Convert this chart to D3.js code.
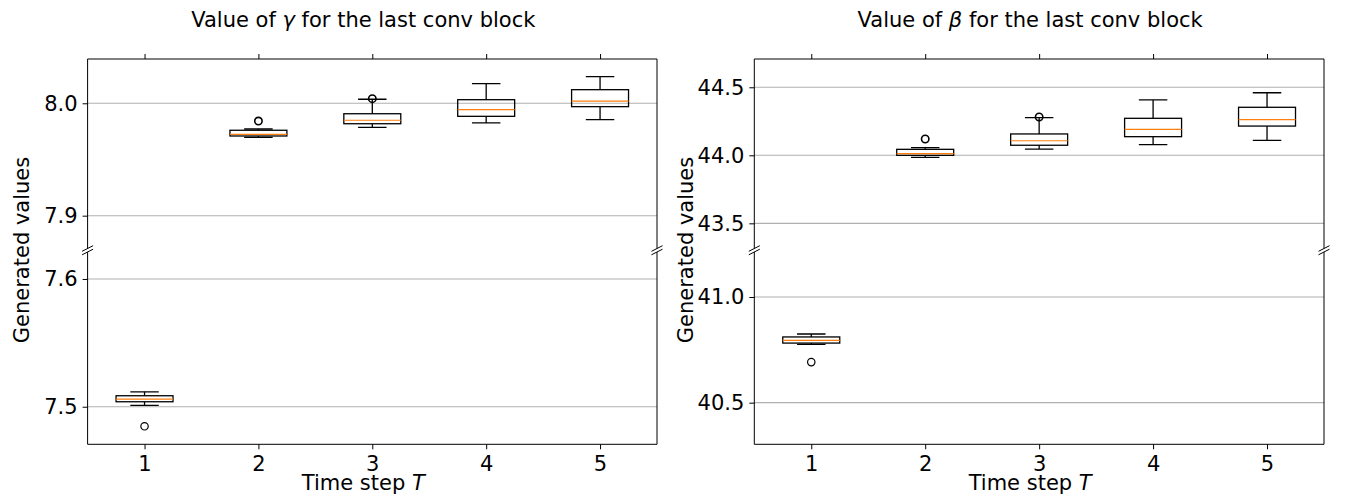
<!DOCTYPE html>
<html><head><meta charset="utf-8">
<script src="https://cdn.jsdelivr.net/npm/d3@7"></script>
<style>body{margin:0;background:#fff} text{font-family:"DejaVu Sans",sans-serif;fill:#000}</style>
</head><body>
<svg id="c" width="1347" height="498"></svg>
<script>
// ---- data ----
const steps = [1, 2, 3, 4, 5];

const gammaWhiskerLow  = [7.5011, 7.9697, 7.9786, 7.9825, 7.9854];
const gammaQ1          = [7.5039, 7.9709, 7.9818, 7.9884, 7.9970];
const gammaMedian      = [7.5060, 7.9724, 7.9849, 7.9943, 8.0020];
const gammaQ3          = [7.5086, 7.9760, 7.9907, 8.0032, 8.0121];
const gammaWhiskerHigh = [7.5117, 7.9771, 8.0036, 8.0175, 8.0237];
const gammaOutliers    = [[7.4847], [7.9842], [8.0041], [], []];

const betaWhiskerLow  = [40.776, 43.985, 44.046, 44.078, 44.110];
const betaQ1          = [40.782, 44.000, 44.074, 44.137, 44.215];
const betaMedian      = [40.795, 44.012, 44.107, 44.191, 44.262];
const betaQ3          = [40.811, 44.044, 44.157, 44.272, 44.353];
const betaWhiskerHigh = [40.825, 44.056, 44.277, 44.407, 44.460];
const betaOutliers    = [[40.692], [44.120], [44.282], [], []];

const gammaTopTicks = [7.9, 8.0];
const gammaBottomTicks = [7.5, 7.6];
const betaTopTicks = [43.5, 44.0, 44.5];
const betaBottomTicks = [40.5, 41.0];

const gammaTopLim = [7.8708, 8.0394];
const gammaBottomLim = [7.4706, 7.6211];
const betaTopLim = [43.315, 44.708];
const betaBottomLim = [40.303, 41.213];

// ---- drawing ----
const svg = d3.select("#c");
const FS = 21;
let clipId = 0;

function drawPanel(cfg) {
  const x = d3.scaleLinear().domain([0.5, 5.5]).range([cfg.x0, cfg.x1]);
  const boxW = x(1.25) - x(0.75);
  const capW = x(1.125) - x(0.875);
  const stats = steps.map((s, i) => ({
    s, lo: cfg.lo[i], q1: cfg.q1[i], med: cfg.med[i], q3: cfg.q3[i], hi: cfg.hi[i], out: cfg.out[i]
  }));
  const subs = [
    {dom: cfg.topLim, range: [248.5, 59], ticks: cfg.topTicks, top: true},
    {dom: cfg.botLim, range: [444.3, 252], ticks: cfg.botTicks, top: false}
  ];
  subs.forEach(sub => {
    const y = d3.scaleLinear().domain(sub.dom).range(sub.range);
    const yTop = sub.range[1], yBot = sub.range[0];
    const id = "clip" + (clipId++);
    svg.append("clipPath").attr("id", id).append("rect")
      .attr("x", cfg.x0 - 10).attr("y", yTop).attr("width", cfg.x1 - cfg.x0 + 20).attr("height", yBot - yTop);
    // grid
    svg.append("g").selectAll("line").data(sub.ticks).join("line")
      .attr("x1", cfg.x0).attr("x2", cfg.x1)
      .attr("y1", d => y(d)).attr("y2", d => y(d))
      .attr("stroke", "#b0b0b0").attr("stroke-width", 1.1);
    // boxes
    const g = svg.append("g").attr("clip-path", `url(#${id})`);
    const b = g.selectAll("g.box").data(stats).join("g").attr("class", "box");
    b.append("line").attr("x1", d => x(d.s)).attr("x2", d => x(d.s))
      .attr("y1", d => y(d.q3)).attr("y2", d => y(d.hi)).attr("stroke", "#000").attr("stroke-width", 1.3);
    b.append("line").attr("x1", d => x(d.s)).attr("x2", d => x(d.s))
      .attr("y1", d => y(d.q1)).attr("y2", d => y(d.lo)).attr("stroke", "#000").attr("stroke-width", 1.3);
    b.append("line").attr("x1", d => x(d.s) - capW / 2).attr("x2", d => x(d.s) + capW / 2)
      .attr("y1", d => y(d.hi)).attr("y2", d => y(d.hi)).attr("stroke", "#000").attr("stroke-width", 1.3);
    b.append("line").attr("x1", d => x(d.s) - capW / 2).attr("x2", d => x(d.s) + capW / 2)
      .attr("y1", d => y(d.lo)).attr("y2", d => y(d.lo)).attr("stroke", "#000").attr("stroke-width", 1.3);
    b.append("rect").attr("x", d => x(d.s) - boxW / 2).attr("width", boxW)
      .attr("y", d => y(d.q3)).attr("height", d => y(d.q1) - y(d.q3))
      .attr("fill", "none").attr("stroke", "#000").attr("stroke-width", 1.3);
    b.append("line").attr("x1", d => x(d.s) - boxW / 2).attr("x2", d => x(d.s) + boxW / 2)
      .attr("y1", d => y(d.med)).attr("y2", d => y(d.med)).attr("stroke", "#ff7f0e").attr("stroke-width", 1.2);
    b.selectAll("circle").data(d => d.out.map(v => ({s: d.s, v}))).join("circle")
      .attr("cx", d => x(d.s)).attr("cy", d => y(d.v)).attr("r", 3.7)
      .attr("fill", "none").attr("stroke", "#000").attr("stroke-width", sub.top ? 1.6 : 1.2);
    // y axis
    const ya = svg.append("g").attr("transform", `translate(${cfg.x0},0)`)
      .call(d3.axisLeft(y).tickValues(sub.ticks).tickFormat(d3.format(".1f")).tickSize(5).tickPadding(5));
    ya.select(".domain").remove();
    ya.selectAll("line").attr("stroke", "#000").attr("stroke-width", 1);
    ya.selectAll("text").attr("font-size", FS).attr("font-family", "DejaVu Sans").attr("fill", "#000");
    // x axis
    if (sub.top) {
      const xa = svg.append("g").attr("transform", `translate(0,${yTop})`)
        .call(d3.axisTop(x).tickValues(steps).tickSize(5).tickFormat(""));
      xa.select(".domain").remove();
      xa.selectAll("line").attr("stroke", "#000");
    } else {
      const xa = svg.append("g").attr("transform", `translate(0,${yBot})`)
        .call(d3.axisBottom(x).tickValues(steps).tickSize(5).tickFormat(d3.format("d")));
      xa.select(".domain").remove();
      xa.selectAll("line").attr("stroke", "#000");
      xa.selectAll("text").attr("font-size", FS).attr("font-family", "DejaVu Sans").attr("fill", "#000")
        .attr("y", 26.5).attr("dy", 0);
    }
    // spines
    const sp = svg.append("g").attr("stroke", "#000").attr("stroke-width", 1);
    sp.append("line").attr("x1", cfg.x0).attr("x2", cfg.x0).attr("y1", yTop).attr("y2", yBot);
    sp.append("line").attr("x1", cfg.x1).attr("x2", cfg.x1).attr("y1", yTop).attr("y2", yBot);
    if (sub.top) sp.append("line").attr("x1", cfg.x0).attr("x2", cfg.x1).attr("y1", yTop).attr("y2", yTop);
    else sp.append("line").attr("x1", cfg.x0).attr("x2", cfg.x1).attr("y1", yBot).attr("y2", yBot);
    // break marks
    const by = sub.top ? yBot : yTop;
    [cfg.x0, cfg.x1].forEach(bx => {
      sp.append("line").attr("x1", bx - 5.5).attr("x2", bx + 5.5)
        .attr("y1", by + 2.8).attr("y2", by - 2.8);
    });
  });
  // title
  const cx = (cfg.x0 + cfg.x1) / 2 - 9;
  const t = svg.append("text").attr("x", cx).attr("y", 27).attr("text-anchor", "middle").attr("font-size", 21);
  t.append("tspan").text("Value of ");
  t.append("tspan").attr("font-style", "italic").text(cfg.sym);
  t.append("tspan").text(" for the last conv block");
  // x label
  const xl = svg.append("text").attr("x", cx).attr("y", 490).attr("text-anchor", "middle").attr("font-size", FS);
  xl.append("tspan").text("Time step ");
  xl.append("tspan").attr("font-style", "italic").text("T");
  // y label
  svg.append("text").attr("transform", `translate(${cfg.ylx},250) rotate(-90)`)
    .attr("text-anchor", "middle").attr("font-size", FS).text("Generated values");
}

drawPanel({x0: 87.6, x1: 657, ylx: 29, sym: "γ",
  lo: gammaWhiskerLow, q1: gammaQ1, med: gammaMedian, q3: gammaQ3, hi: gammaWhiskerHigh, out: gammaOutliers,
  topLim: gammaTopLim, botLim: gammaBottomLim, topTicks: gammaTopTicks, botTicks: gammaBottomTicks});
drawPanel({x0: 754.3, x1: 1324, ylx: 693, sym: "β",
  lo: betaWhiskerLow, q1: betaQ1, med: betaMedian, q3: betaQ3, hi: betaWhiskerHigh, out: betaOutliers,
  topLim: betaTopLim, botLim: betaBottomLim, topTicks: betaTopTicks, botTicks: betaBottomTicks});
</script>
</body></html>
